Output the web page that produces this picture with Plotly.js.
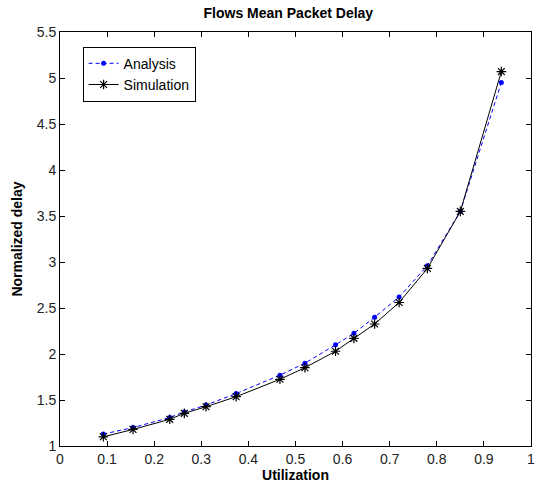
<!DOCTYPE html>
<html>
<head>
<meta charset="utf-8">
<script src="https://cdn.plot.ly/plotly-3.0.1.min.js"></script>
<style>html,body{margin:0;padding:0;background:#fff;overflow:hidden;}#chart{width:535px;height:491px;}</style>
</head>
<body>
<div id="chart"></div>
<script>
const utilization = [0.092, 0.155, 0.233, 0.264, 0.31, 0.374, 0.467, 0.52, 0.585, 0.624, 0.668, 0.72, 0.78, 0.85, 0.937];
const analysisDelay = [1.13, 1.20, 1.31, 1.37, 1.445, 1.57, 1.77, 1.90, 2.10, 2.225, 2.40, 2.62, 2.96, 3.55, 4.95];
const simulationDelay = [1.10, 1.18, 1.29, 1.355, 1.427, 1.536, 1.725, 1.851, 2.03, 2.17, 2.326, 2.56, 2.93, 3.55, 5.07];
const seriesNames = ["Analysis", "Simulation"];
const xRange = [0, 1];
const xTickVals = [0, 0.1, 0.2, 0.3, 0.4, 0.5, 0.6, 0.7, 0.8, 0.9, 1];
const xTickText = ["0", "0.1", "0.2", "0.3", "0.4", "0.5", "0.6", "0.7", "0.8", "0.9", "1"];
const yRange = [1, 5.5];
const yTickStep = 0.5;

const FONT = "Liberation Sans, Arial, sans-serif";

const traces = [
  {
    x: utilization, y: analysisDelay, name: seriesNames[0],
    type: "scatter", mode: "lines+markers",
    line: {color: "#0000ff", width: 1, dash: "4px,3px"},
    marker: {symbol: "circle", size: 5, color: "#0000ff"}
  },
  {
    x: utilization, y: simulationDelay, name: seriesNames[1],
    type: "scatter", mode: "lines+markers",
    line: {color: "#000000", width: 1},
    marker: {symbol: "asterisk-open", size: 8, color: "#000000", line: {width: 1.2, color: "#000000"}}
  }
];

const axisCommon = {
  showline: true, linecolor: "#000", linewidth: 1, mirror: "ticks",
  ticks: "inside", ticklen: 5, tickwidth: 1, tickcolor: "#000",
  showgrid: false, zeroline: false, ticklabeloverflow: "allow",
  tickfont: {family: FONT, size: 14, color: "#222"}
};

const lastX = xTickVals.length - 1;

const layout = {
  width: 535, height: 491,
  margin: {l: 60, r: 4, t: 32, b: 45},
  paper_bgcolor: "#fff", plot_bgcolor: "#fff",
  font: {family: FONT},
  title: {
    text: "<b>Flows Mean Packet Delay</b>",
    font: {family: FONT, size: 14, color: "#000"},
    xref: "container", x: 0.539, xanchor: "center",
    yref: "container", y: 0.973, yanchor: "middle"
  },
  xaxis: Object.assign({}, axisCommon, {
    range: xRange, tickmode: "array",
    tickvals: xTickVals.slice(0, lastX), ticktext: xTickText.slice(0, lastX),
    title: {text: "<b>Utilization</b>", font: {family: FONT, size: 14, color: "#000"}, standoff: 4}
  }),
  yaxis: Object.assign({}, axisCommon, {
    range: yRange, tickmode: "linear", tick0: 1, dtick: yTickStep,
    title: {text: "<b>Normalized delay</b>", font: {family: FONT, size: 14, color: "#000"}, standoff: 10}
  }),
  annotations: [{
    x: (xTickVals[lastX] - xRange[0]) / (xRange[1] - xRange[0]), xref: "paper",
    y: 0, yref: "paper",
    xanchor: "center", yanchor: "top", yshift: -3,
    text: xTickText[lastX], showarrow: false,
    font: {family: FONT, size: 14, color: "#222"}
  }],
  showlegend: true,
  legend: {
    x: 0.048, y: 0.9645, xanchor: "left", yanchor: "top",
    bgcolor: "#fff", bordercolor: "#000", borderwidth: 1,
    font: {family: FONT, size: 14, color: "#000"},
    tracegroupgap: 0, itemwidth: 30
  }
};

Plotly.newPlot("chart", traces, layout, {displayModeBar: false, staticPlot: true});
</script>
</body>
</html>
